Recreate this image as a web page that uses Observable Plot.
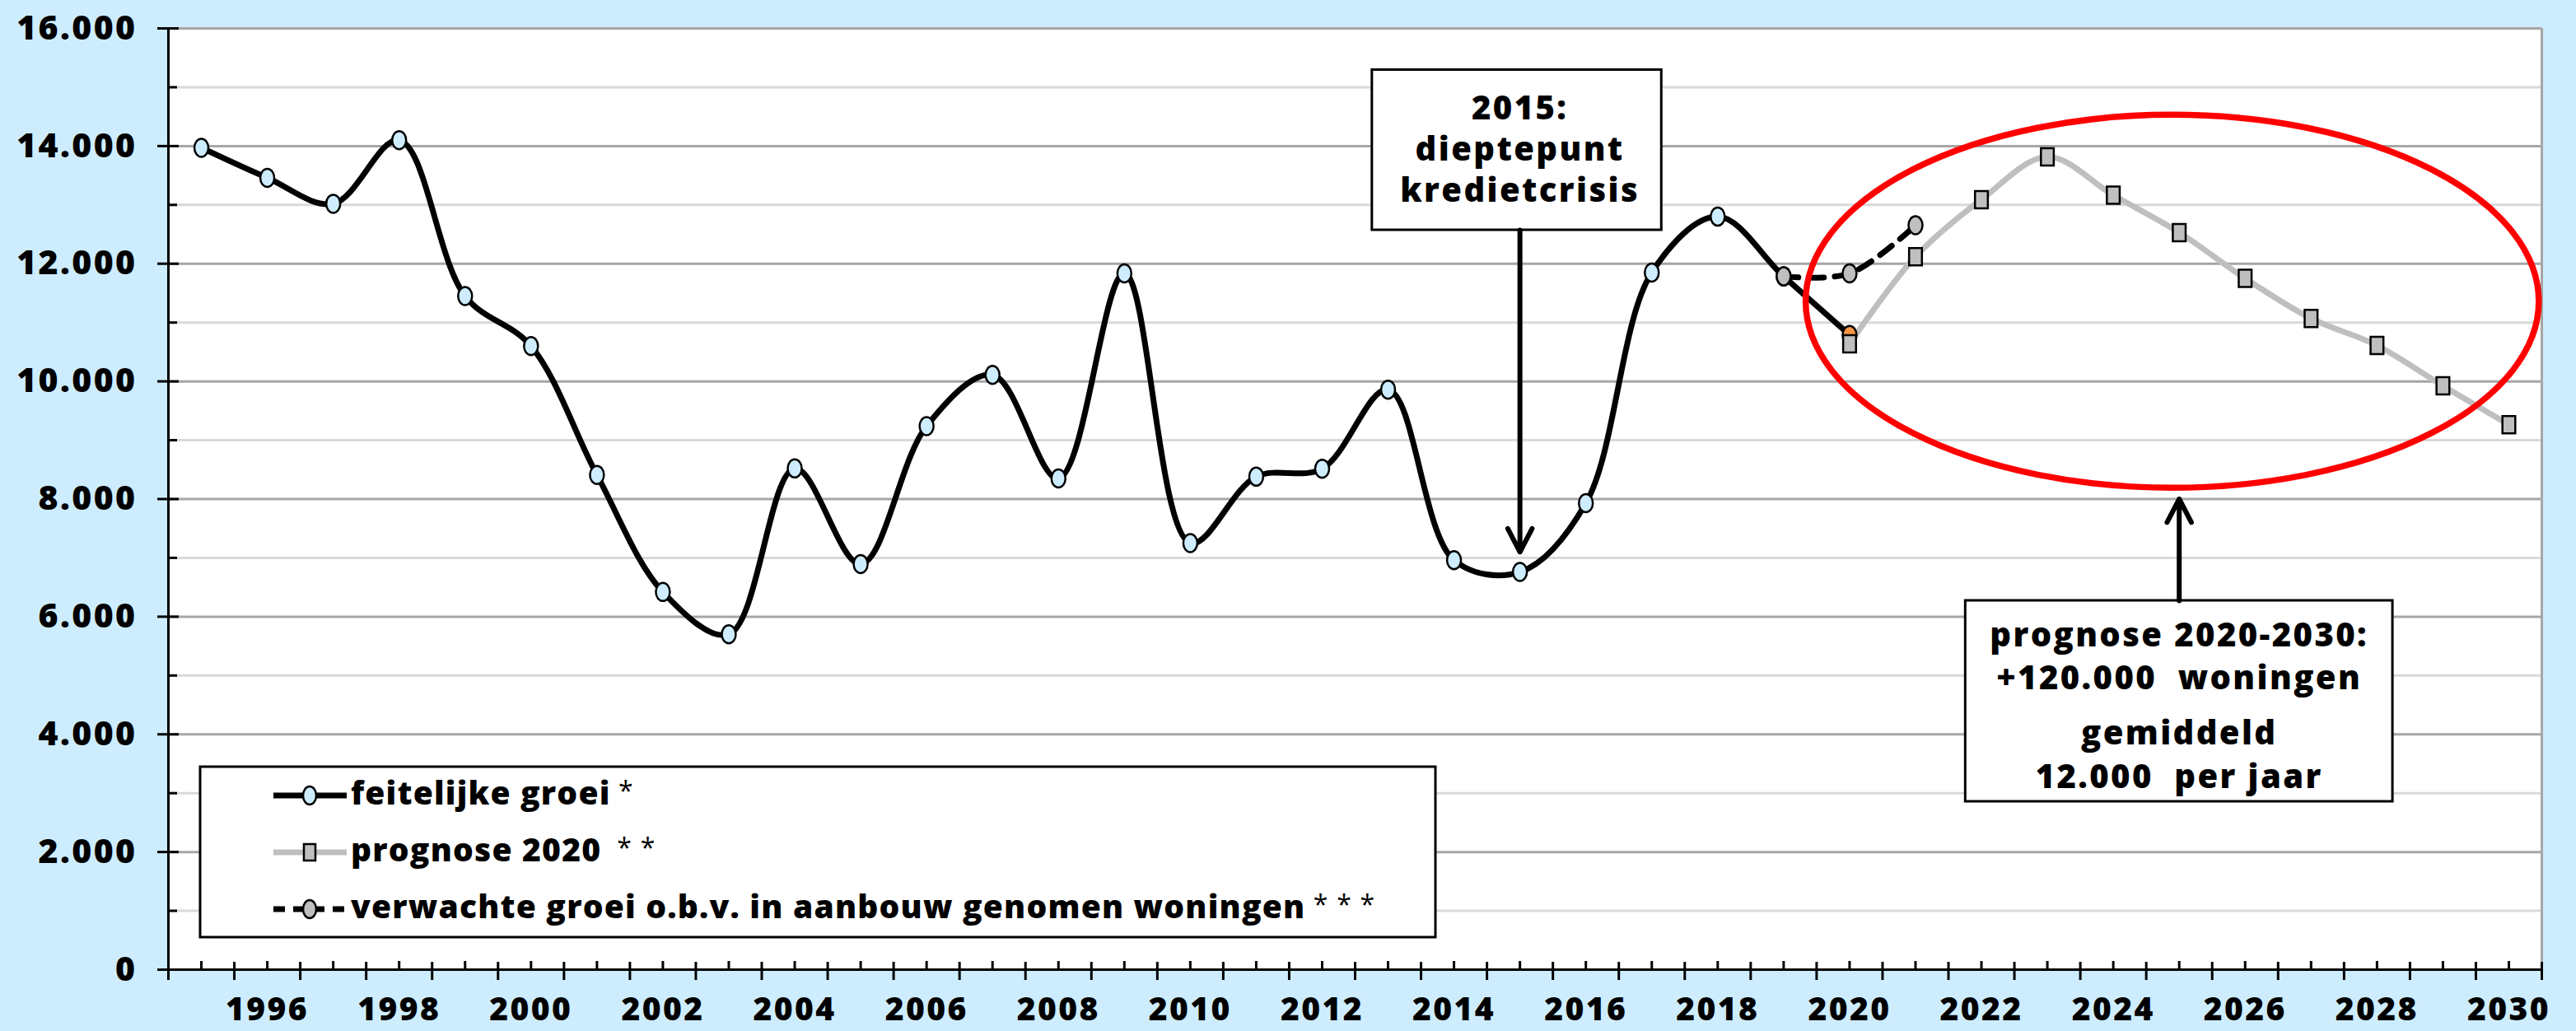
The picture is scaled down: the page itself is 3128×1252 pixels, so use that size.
<!DOCTYPE html>
<html><head><meta charset="utf-8">
<script src="https://cdn.jsdelivr.net/npm/d3@7"></script>
<script src="https://cdn.jsdelivr.net/npm/@observablehq/plot@0.6"></script>
<style>
html,body{margin:0;padding:0;background:#cdedff;}
#chart{width:3128px;height:1252px;overflow:hidden;}
svg text{white-space:pre;letter-spacing:2.4px;}
svg g.legend text{letter-spacing:1.2px;}
</style></head><body><div id="chart"></div>
<script>
// ---------- DATA ----------
const actualYears = [1995,1996,1997,1998,1999,2000,2001,2002,2003,2004,2005,2006,2007,2008,2009,2010,2011,2012,2013,2014,2015,2016,2017,2018,2019,2020];
const actualValues = [13970,13460,13020,14100,11450,10600,8410,6420,5700,8520,6895,9240,10110,8350,11835,7250,8380,8515,9860,6960,6760,7930,11850,12800,11785,10790];
const prognoseYears = [2020,2021,2022,2023,2024,2025,2026,2027,2028,2029,2030];
const prognoseValues = [10640,12120,13090,13815,13165,12530,11750,11070,10610,9925,9265];
const verwachtYears = [2019,2020,2021];
const verwachtValues = [11785,11835,12655];
const yTickValues = [0,2000,4000,6000,8000,10000,12000,14000,16000];
const yMinorValues = [1000,3000,5000,7000,9000,11000,13000,15000];
const xLabelYears = [1996,1998,2000,2002,2004,2006,2008,2010,2012,2014,2016,2018,2020,2022,2024,2026,2028,2030];
const legendLabels = ["feitelijke groei", "prognose 2020", "verwachte groei o.b.v. in aanbouw genomen woningen"];
const legendStars = [" *", "  * *", " * * *"];
const crisisText = "2015:\ndieptepunt\nkredietcrisis";
const prognoseText1 = "prognose 2020-2030:\n+120.000  woningen";
const prognoseText2 = "gemiddeld\n12.000  per jaar";

// ---------- BUILD ----------
const FONT = "'Open Sans', Lato, 'DejaVu Sans', sans-serif";
const actual = actualYears.map((year, i) => ({year, value: actualValues[i]}));
const progn = prognoseYears.map((year, i) => ({year, value: prognoseValues[i]}));
const verw = verwachtYears.map((year, i) => ({year, value: verwachtValues[i]}));
const xMinorYears = d3.range(1995, 2031);
const xBoundaries = d3.range(1994.5, 2031, 1);
const fmt = d3.formatLocale({decimal: ",", thousands: ".", grouping: [3], currency: ["€", ""]}).format(",");

const BLUE = "#cdedff", ORANGE = "#f79646", GRAY = "#bfbfbf";
const curve = "catmull-rom";

// tall marker shapes (Excel markers appear slightly taller than wide)
const K = 0.5523;
const ovalSymbol = {draw(ctx, size) {
  const r = Math.sqrt(size / Math.PI), a = r * 0.85, b = r * 1.1;
  ctx.moveTo(a, 0);
  ctx.bezierCurveTo(a, K * b, K * a, b, 0, b);
  ctx.bezierCurveTo(-K * a, b, -a, K * b, -a, 0);
  ctx.bezierCurveTo(-a, -K * b, -K * a, -b, 0, -b);
  ctx.bezierCurveTo(K * a, -b, a, -K * b, a, 0);
  ctx.closePath();
}};
const boxSymbol = {draw(ctx, size) {
  const r = Math.sqrt(size / Math.PI), a = r * 0.78, b = r * 1.05;
  ctx.moveTo(-a, -b); ctx.lineTo(a, -b); ctx.lineTo(a, b); ctx.lineTo(-a, b); ctx.closePath();
}};

const TXT = {fontSize: 40, fontWeight: 800, fill: "black"};

const plot = Plot.plot({
  width: 3128, height: 1252,
  marginLeft: 204, marginRight: 42, marginTop: 34, marginBottom: 75,
  style: {background: "transparent", fontFamily: FONT, color: "black", overflow: "visible"},
  x: {domain: [1994.5, 2030.5], axis: null, label: null},
  y: {domain: [0, 16000], axis: null, label: null},
  color: {type: "identity"},
  marks: [
    Plot.frame({fill: "white", stroke: "none"}),
    Plot.ruleY(yMinorValues, {stroke: "#d9d9d9", strokeWidth: 3}),
    Plot.ruleY(yTickValues.filter(v => v > 0), {stroke: "#a6a6a6", strokeWidth: 3}),
    Plot.ruleX([2030.5], {stroke: "#a6a6a6", strokeWidth: 3}),
    Plot.axisY(yTickValues, {label: null, tickSize: 26, dx: 13, tickPadding: 25, tickFormat: fmt, fontSize: 41, fontWeight: 800, strokeWidth: 3, color: "black"}),
    Plot.axisY(yMinorValues, {label: null, tickSize: 11, dx: 11, tickFormat: () => "", strokeWidth: 3, color: "black"}),
    Plot.axisX(xBoundaries, {label: null, tickSize: 22, dy: -9, tickFormat: () => "", strokeWidth: 3, color: "black"}),
    Plot.axisX(xMinorYears, {label: null, tickSize: 10, dy: -10, tickFormat: () => "", strokeWidth: 3, color: "black"}),
    Plot.axisX(xLabelYears, {label: null, tickSize: 0, tickPadding: 34, tickFormat: d => String(d), fontSize: 39, fontWeight: 800, color: "black"}),
    Plot.ruleX([1994.5], {stroke: "black", strokeWidth: 3}),
    Plot.ruleY([0], {stroke: "black", strokeWidth: 3}),

    Plot.line(progn, {x: "year", y: "value", stroke: GRAY, strokeWidth: 7, curve}),
    Plot.line(actual, {x: "year", y: "value", stroke: "black", strokeWidth: 7, curve}),
    Plot.line(verw, {x: "year", y: "value", stroke: "black", strokeWidth: 7, strokeDasharray: "18,13", curve}),
    Plot.dot(actual, {x: "year", y: "value", r: 10, symbol: ovalSymbol, fill: d => d.year === 2020 ? ORANGE : BLUE, stroke: "black", strokeWidth: 2.5}),
    Plot.dot(progn, {x: "year", y: "value", symbol: boxSymbol, r: 10, fill: GRAY, stroke: "black", strokeWidth: 2.5}),
    Plot.dot(verw, {x: "year", y: "value", r: 10, symbol: ovalSymbol, fill: GRAY, stroke: "black", strokeWidth: 2.5}),

    // annotation 2015
    Plot.rect([crisisText], {x1: 2012.76, x2: 2017.15, y1: 12570, y2: 15293, fill: "white", stroke: "black", strokeWidth: 3}),
    Plot.text([crisisText], {x: 2015, y: 13980, text: d => d, lineHeight: 1.25, ...TXT}),
    Plot.arrow([crisisText], {x1: 2015, y1: 12570, x2: 2015, y2: 7100, stroke: "black", strokeWidth: 6, headLength: 8, headAngle: 55}),

    // annotation prognose
    Plot.rect([prognoseText1], {x1: 2021.76, x2: 2028.24, y1: 2855, y2: 6271, fill: "white", stroke: "black", strokeWidth: 3}),
    Plot.text([prognoseText1], {x: 2025, y: 5368, text: d => d, lineHeight: 1.32, ...TXT}),
    Plot.text([prognoseText2], {x: 2025, y: 3695, text: d => d, lineHeight: 1.32, ...TXT}),
    Plot.arrow([prognoseText1], {x1: 2025, y1: 6271, x2: 2025, y2: 8000, stroke: "black", strokeWidth: 6, headLength: 8, headAngle: 55})
  ]
});

document.getElementById("chart").append(plot);

// red ellipse (data space anchored)
const sx = plot.scale("x"), sy = plot.scale("y");
const svg = d3.select(plot);
const ecx = sx.apply(2024.9), ecy = sy.apply(11355);
svg.append("ellipse")
  .attr("cx", ecx).attr("cy", ecy)
  .attr("rx", sx.apply(2024.9 + 5.56) - ecx)
  .attr("ry", sy.apply(11355 - 3170) - ecy)
  .attr("fill", "none").attr("stroke", "#ff0000").attr("stroke-width", 7.5);

// legend
const L = {x0: 243, y0: 931, x1: 1743, y1: 1138, rows: [966, 1035, 1104], lx1: 332, lx2: 421, mx: 376, tx: 426};
const lg = svg.append("g").attr("class", "legend").attr("font-family", FONT).attr("font-weight", 800).attr("font-size", 39).attr("text-anchor", "start");
lg.append("rect").attr("x", L.x0).attr("y", L.y0).attr("width", L.x1 - L.x0).attr("height", L.y1 - L.y0)
  .attr("fill", "white").attr("stroke", "black").attr("stroke-width", 3);
const styles = [
  {stroke: "black", dash: null, fill: BLUE, sym: "circle"},
  {stroke: GRAY, dash: null, fill: GRAY, sym: "square"},
  {stroke: "black", dash: "14,10", fill: GRAY, sym: "circle"}
];
legendLabels.forEach((lab, i) => {
  const y = L.rows[i], s = styles[i];
  const ln = lg.append("line").attr("x1", L.lx1).attr("x2", L.lx2).attr("y1", y).attr("y2", y)
    .attr("stroke", s.stroke).attr("stroke-width", 7);
  if (s.dash) ln.attr("stroke-dasharray", s.dash);
  if (s.sym === "circle") lg.append("ellipse").attr("cx", L.mx).attr("cy", y).attr("rx", 8).attr("ry", 11).attr("fill", s.fill).attr("stroke", "black").attr("stroke-width", 2.5);
  else lg.append("rect").attr("x", L.mx - 7).attr("y", y - 10).attr("width", 14).attr("height", 20).attr("fill", s.fill).attr("stroke", "black").attr("stroke-width", 2.5);
  const t = lg.append("text").attr("x", L.tx).attr("y", y + 11);
  t.append("tspan").text(lab);
  t.append("tspan").attr("font-weight", 400).attr("font-size", 32).attr("dy", -5).text(legendStars[i]);
});
</script></body></html>
